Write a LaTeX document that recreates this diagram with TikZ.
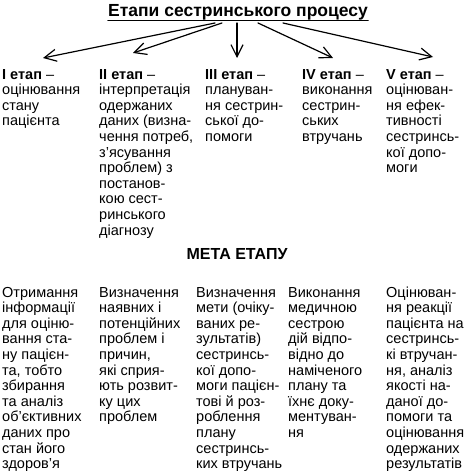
\documentclass[tikz,border=0pt]{standalone}
\usepackage{fontspec}
\setmainfont{Liberation Sans}
\usepackage{tikz}
\usetikzlibrary{arrows.meta}
\tikzset{
  sp diagram/.style={font=\fontsize{14.5}{15.6}\selectfont, text=black,
    line cap=round, line join=round},
  sp title/.style={font=\fontsize{17.5}{19}\selectfont\bfseries, inner sep=0pt},
  sp goal/.style={font=\fontsize{16}{18}\selectfont\bfseries, inner sep=0pt},
  sp text/.style={align=left, anchor=north west, inner sep=0pt},
  sp arrow/.style={-{Straight Barb[length=12pt,width=12pt]}, line width=1.2pt},
  sp rule/.style={line width=1.4pt}
}
\newcommand{\spstage}[1]{\textbf{#1 етап} –}

\begin{document}
\begin{tikzpicture}[sp diagram,x=1pt,y=-1pt]
\useasboundingbox (0,0) rectangle (469,473);
\node[sp title,anchor=base] (title) at (238,17) {Етапи сестринського процесу};
\draw[sp rule] ([yshift=-3.5pt]title.base west) -- ([yshift=-3.5pt]title.base east);
\foreach \i/\sx/\ex/\ey in {1/215/43/58,2/222/133/53,3/237/237/58,4/258/333/58,5/283/433/57}{
  \coordinate (from\i) at (\sx,23);
  \coordinate (to\i) at (\ex,\ey);
  \draw[sp arrow] (from\i) -- (to\i);
}
% stages
\node[sp text] (stage1) at (2,68) {\strut\spstage{I}\\оцінювання\\стану\\пацієнта};
\node[sp text] (stage2) at (99,68) {\strut\spstage{II}\\інтерпретація\\одержаних\\даних (визна-\\чення потреб,\\з’ясування\\проблем) з\\постанов-\\кою сест-\\ринського\\діагнозу};
\node[sp text] (stage3) at (205,68) {\strut\spstage{III}\\плануван-\\ня сестрин-\\ської до-\\помоги};
\node[sp text] (stage4) at (302,68) {\strut\spstage{IV}\\виконання\\сестрин-\\ських\\втручань};
\node[sp text] (stage5) at (386,68) {\strut\spstage{V}\\оцінюван-\\ня ефек-\\тивності\\сестринсь-\\кої допо-\\моги};
\node[sp goal,anchor=base] (goal) at (237,259) {МЕТА ЕТАПУ};
% goals
\node[sp text] (goal1) at (2,286) {\strut Отримання\\інформації\\для оціню-\\вання ста-\\ну пацієн-\\та, тобто\\збирання\\та аналіз\\об’єктивних\\даних про\\стан його\\здоров’я};
\node[sp text] (goal2) at (99,286) {\strut Визначення\\наявних і\\потенційних\\проблем і\\причин,\\які сприя-\\ють розвит-\\ку цих\\проблем};
\node[sp text] (goal3) at (196,286) {\strut Визначення\\мети (очіку-\\ваних ре-\\зультатів)\\сестринсь-\\кої допо-\\моги пацієн-\\тові й роз-\\роблення\\плану\\сестринсь-\\ких втручань};
\node[sp text] (goal4) at (288,286) {\strut Виконання\\медичною\\сестрою\\дій відпо-\\відно до\\наміченого\\плану та\\їхнє доку-\\ментуван-\\ня};
\node[sp text] (goal5) at (386,286) {\strut Оцінюван-\\ня реакції\\пацієнта на\\сестринсь-\\кі втручан-\\ня, аналіз\\якості на-\\даної до-\\помоги та\\оцінювання\\одержаних\\результатів};
\end{tikzpicture}
\end{document}
